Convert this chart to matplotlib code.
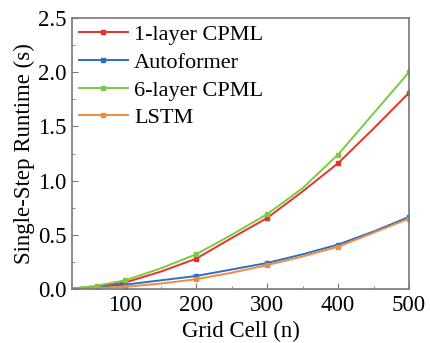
import matplotlib
matplotlib.use("Agg")
import matplotlib.pyplot as plt
from matplotlib.ticker import MultipleLocator

n = [25, 60, 100, 150, 200, 250, 300, 350, 400, 450, 500]
cpml1 = [0.005, 0.02, 0.06, 0.16, 0.28, 0.47, 0.655, 0.90, 1.16, 1.48, 1.81]
autoformer = [0.005, 0.02, 0.04, 0.08, 0.12, 0.18, 0.24, 0.32, 0.41, 0.53, 0.665]
cpml6 = [0.005, 0.03, 0.08, 0.19, 0.32, 0.50, 0.69, 0.93, 1.24, 1.62, 2.0]
lstm = [0.003, 0.01, 0.02, 0.05, 0.09, 0.15, 0.22, 0.30, 0.39, 0.52, 0.65]

labels = ["1-layer CPML", "Autoformer", "6-layer CPML", "LSTM"]
colors = ["#e8312a", "#2f6fc2", "#7ac943", "#f08a3c"]

plt.rcParams['font.family'] = ['Liberation Serif', 'DejaVu Serif']
fig = plt.figure(figsize=(4.31, 3.43), dpi=100)
ax = fig.add_axes([72/431, 1-289/343, (409-72)/431, (289-18)/343])

for y, lab, c in zip([cpml1, autoformer, cpml6, lstm], labels, colors):
    ax.plot(n, y, color=c, lw=1.4, marker='s', ms=2.5, markevery=[1, 2, 4, 6, 8, 10], label=lab)

ax.set_xlim(25, 500)
ax.set_ylim(0, 2.5)
ax.xaxis.set_major_locator(MultipleLocator(100))
ax.xaxis.set_minor_locator(MultipleLocator(50))
ax.yaxis.set_major_locator(MultipleLocator(0.5))
ax.yaxis.set_minor_locator(MultipleLocator(0.25))
ax.yaxis.set_major_formatter(matplotlib.ticker.FormatStrFormatter('%.1f'))
ax.tick_params(which='both', direction='in', color='#777777', labelsize=16.5, top=False, right=False)
ax.tick_params(which='major', length=4, pad=4)
ax.tick_params(which='minor', length=2.5)
for s in ax.spines.values():
    s.set_color('#777777')
    s.set_linewidth(1.2)
ax.set_xlabel("Grid Cell (n)", fontsize=16.5, labelpad=4)
ax.set_ylabel("Single-Step Runtime (s)", fontsize=16.5, labelpad=2)
ax.legend(loc='upper left', frameon=False, fontsize=16, handlelength=2.2,
          handletextpad=0.3, labelspacing=0.32, borderaxespad=0.1, borderpad=0.2)
fig.savefig("out.png", dpi=100)
